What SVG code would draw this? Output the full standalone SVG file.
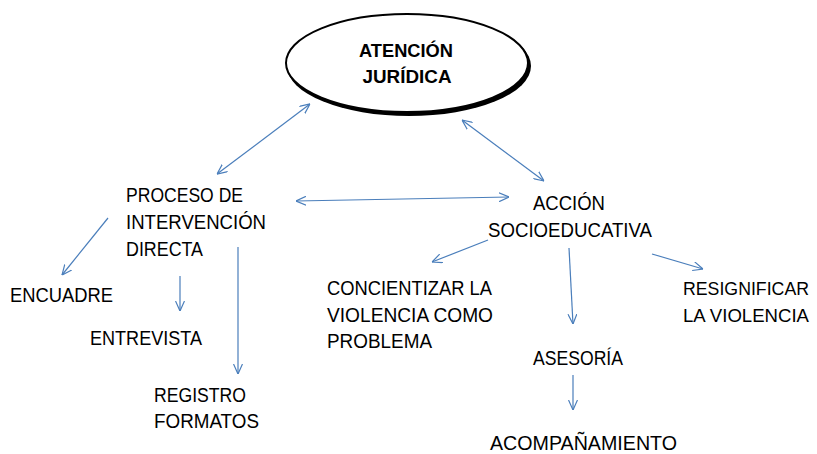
<svg xmlns="http://www.w3.org/2000/svg" width="817" height="454" viewBox="0 0 817 454">
<style>
.t{font-family:"Liberation Sans",Arial,sans-serif;font-size:20px;fill:#000}
.s{font-size:18px}
.b{font-family:"Liberation Sans",Arial,sans-serif;font-size:19px;font-weight:bold;fill:#000}
.c{stroke:#4a7ebb;stroke-width:1.2;fill:none}
</style>
<defs>
<marker id="ah" viewBox="0 0 10 10" refX="10" refY="5" markerWidth="10" markerHeight="10" markerUnits="userSpaceOnUse" orient="auto-start-reverse">
<path d="M0,0.5 L10,5 L0,9.5" fill="none" stroke="#4a7ebb" stroke-width="1.2"/>
</marker>
</defs>
<rect width="817" height="454" fill="#fff"/>
<g id="connectors">
<line class="c" x1="217" y1="174" x2="310" y2="104" marker-start="url(#ah)" marker-end="url(#ah)"/>
<line class="c" x1="462" y1="120" x2="544" y2="181" marker-start="url(#ah)" marker-end="url(#ah)"/>
<line class="c" x1="296" y1="201" x2="509" y2="197" marker-start="url(#ah)" marker-end="url(#ah)"/>
<line class="c" x1="108" y1="218" x2="62" y2="275" marker-end="url(#ah)"/>
<line class="c" x1="180" y1="276" x2="180" y2="311" marker-end="url(#ah)"/>
<line class="c" x1="238" y1="247" x2="238" y2="374" marker-end="url(#ah)"/>
<line class="c" x1="488" y1="240" x2="432" y2="262" marker-end="url(#ah)"/>
<line class="c" x1="569" y1="248" x2="573" y2="324" marker-end="url(#ah)"/>
<line class="c" x1="652" y1="254" x2="703" y2="269" marker-end="url(#ah)"/>
<line class="c" x1="573" y1="375" x2="573" y2="410" marker-end="url(#ah)"/>
</g>
<g id="atencion">
<ellipse cx="409" cy="66" rx="122" ry="50" fill="#000"/>
<ellipse cx="407" cy="63" rx="121" ry="49" fill="#fff" stroke="#000" stroke-width="2"/>
<text class="b" x="406" y="57" text-anchor="middle" textLength="94" lengthAdjust="spacingAndGlyphs">ATENCIÓN</text>
<text class="b" x="407" y="83" text-anchor="middle" textLength="89" lengthAdjust="spacingAndGlyphs">JURÍDICA</text>
</g>
<g id="proceso">
<text class="t" x="126" y="202" textLength="117" lengthAdjust="spacingAndGlyphs">PROCESO DE</text>
<text class="t" x="126" y="229" textLength="140" lengthAdjust="spacingAndGlyphs">INTERVENCIÓN</text>
<text class="t" x="126" y="256" textLength="77" lengthAdjust="spacingAndGlyphs">DIRECTA</text>
</g>
<g id="encuadre"><text class="t" x="10" y="302" textLength="103" lengthAdjust="spacingAndGlyphs">ENCUADRE</text></g>
<g id="entrevista"><text class="t" x="90" y="345" textLength="112" lengthAdjust="spacingAndGlyphs">ENTREVISTA</text></g>
<g id="registro">
<text class="t" x="154" y="402" textLength="92" lengthAdjust="spacingAndGlyphs">REGISTRO</text>
<text class="t" x="154" y="428" textLength="105" lengthAdjust="spacingAndGlyphs">FORMATOS</text>
</g>
<g id="accion">
<text class="t" x="533" y="210" textLength="72" lengthAdjust="spacingAndGlyphs">ACCIÓN</text>
<text class="t" x="488" y="237" textLength="164" lengthAdjust="spacingAndGlyphs">SOCIOEDUCATIVA</text>
</g>
<g id="concientizar">
<text class="t" x="327" y="295" textLength="165" lengthAdjust="spacingAndGlyphs">CONCIENTIZAR LA</text>
<text class="t" x="327" y="322" textLength="166" lengthAdjust="spacingAndGlyphs">VIOLENCIA COMO</text>
<text class="t" x="327" y="348" textLength="105" lengthAdjust="spacingAndGlyphs">PROBLEMA</text>
</g>
<g id="resignificar">
<text class="t s" x="683" y="295" textLength="126" lengthAdjust="spacingAndGlyphs">RESIGNIFICAR</text>
<text class="t s" x="683" y="322" textLength="126" lengthAdjust="spacingAndGlyphs">LA VIOLENCIA</text>
</g>
<g id="asesoria"><text class="t" x="533" y="365" textLength="90" lengthAdjust="spacingAndGlyphs">ASESORÍA</text></g>
<g id="acompanamiento"><text class="t" x="490" y="450" textLength="187" lengthAdjust="spacingAndGlyphs">ACOMPAÑAMIENTO</text></g>
</svg>
